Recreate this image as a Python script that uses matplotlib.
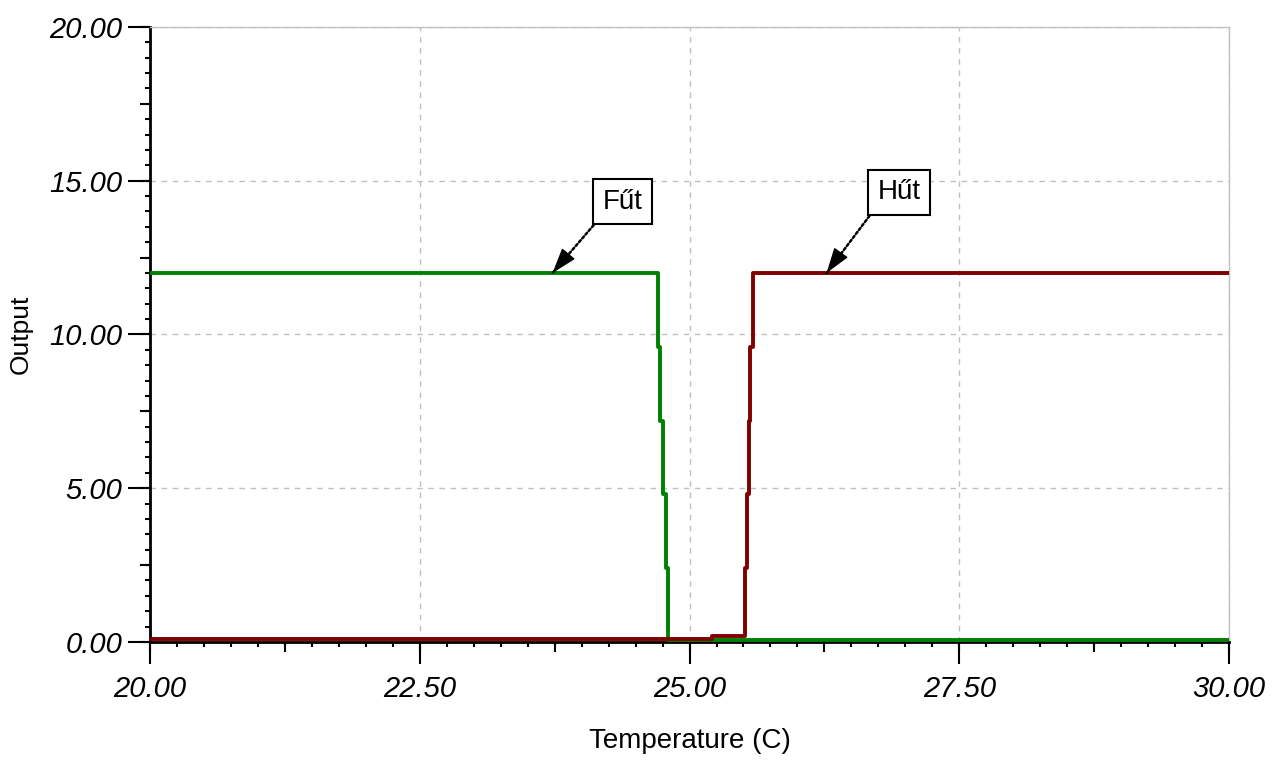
import math
import matplotlib
matplotlib.use("Agg")
import matplotlib.pyplot as plt
from matplotlib.ticker import MultipleLocator, FormatStrFormatter

# heating curve (Fűt)
heat_temp = [20.0, 24.71, 24.71, 24.73, 24.73, 24.75, 24.75, 24.78, 24.78, 24.80, 24.80, 30.0]
heat_out = [12.0, 12.0, 9.6, 9.6, 7.2, 7.2, 4.8, 4.8, 2.4, 2.4, 0.08, 0.08]

# cooling curve (Hűt)
cool_temp = [20.0, 25.21, 25.21, 25.51, 25.51, 25.53, 25.53, 25.55, 25.55, 25.56, 25.56, 25.59, 25.59, 30.0]
cool_out = [0.1, 0.1, 0.2, 0.2, 2.4, 2.4, 4.8, 4.8, 7.2, 7.2, 9.6, 9.6, 12.0, 12.0]

labels = ["Fűt", "Hűt"]
label_pos = [(24.38, 14.32), (26.94, 14.62)]
arrow_tip = [(23.73, 12.0), (26.27, 12.0)]

plt.rcParams['font.family'] = ['Liberation Sans', 'DejaVu Sans']

fig = plt.figure(figsize=(12.8, 7.66), dpi=100)
ax = fig.add_axes([0.1172, 0.1619, 0.843, 0.8029])

ax.plot(heat_temp, heat_out, color="#008000", lw=2.8, zorder=3)
ax.plot(cool_temp, cool_out, color="#800000", lw=2.8, zorder=3)

ax.set_xlim(20, 30)
ax.set_ylim(0, 20)

ax.xaxis.set_major_locator(MultipleLocator(2.5))
ax.xaxis.set_minor_locator(MultipleLocator(0.25))
ax.yaxis.set_major_locator(MultipleLocator(5))
ax.yaxis.set_minor_locator(MultipleLocator(0.5))
ax.xaxis.set_major_formatter(FormatStrFormatter("%.2f"))
ax.yaxis.set_major_formatter(FormatStrFormatter("%.2f"))

ax.tick_params(which="major", length=16, width=1.5, direction="out", labelsize=21, pad=4)
ax.tick_params(axis="x", which="major", pad=8)
ax.tick_params(which="minor", length=3.5, width=1.5, direction="out")
for lab in ax.get_xticklabels() + ax.get_yticklabels():
    lab.set_fontstyle("italic")

# medium ticks halfway between the labelled ones
sx = ax.secondary_xaxis("bottom")
sx.xaxis.set_major_locator(MultipleLocator(1.25))
sx.tick_params(length=7, width=1.5, labelbottom=False)
sx.spines["bottom"].set_visible(False)
sy = ax.secondary_yaxis("left")
sy.yaxis.set_major_locator(MultipleLocator(2.5))
sy.tick_params(length=7, width=1.5, labelleft=False)
sy.spines["left"].set_visible(False)

ax.grid(True, which="major", color="#c0c0c0", linestyle=(0, (4, 4)), lw=1)

for s in ["left", "bottom"]:
    ax.spines[s].set_linewidth(2)
    ax.spines[s].set_color("black")
for s in ["top", "right"]:
    ax.spines[s].set_linewidth(1)
    ax.spines[s].set_color("#c0c0c0")

ax.set_xlabel("Temperature (C)", fontsize=20, labelpad=18)
ax.set_ylabel("Output", fontsize=19, labelpad=12)

# label boxes with dotted leader lines
anns = []
for txt, pos, tip in zip(labels, label_pos, arrow_tip):
    a = ax.annotate(txt, xy=tip, xytext=pos, fontsize=20, ha="center", va="center",
                    bbox=dict(boxstyle="square,pad=0.35", fc="white", ec="black", lw=1.5),
                    arrowprops=dict(arrowstyle="-", color="black", lw=1.8,
                                    linestyle=(0, (1, 1)), relpos=(0, 0),
                                    shrinkA=0, shrinkB=0),
                    zorder=5)
    anns.append(a)

# solid arrow heads at the end of each leader
fig.canvas.draw()
head_px = 22
for a, tip in zip(anns, arrow_tip):
    bb = a.get_bbox_patch().get_window_extent()
    tx, ty = ax.transData.transform(tip)
    d = math.hypot(bb.x0 - tx, bb.y0 - ty)
    hx = tx + (bb.x0 - tx) * head_px / d
    hy = ty + (bb.y0 - ty) * head_px / d
    ax.annotate("", xy=tip, xytext=(hx, hy), textcoords="figure pixels",
                arrowprops=dict(arrowstyle="-|>,head_length=1.0,head_width=0.33",
                                color="black", lw=1, mutation_scale=16,
                                shrinkA=0, shrinkB=0),
                zorder=6)

fig.savefig("out.png", dpi=100)
